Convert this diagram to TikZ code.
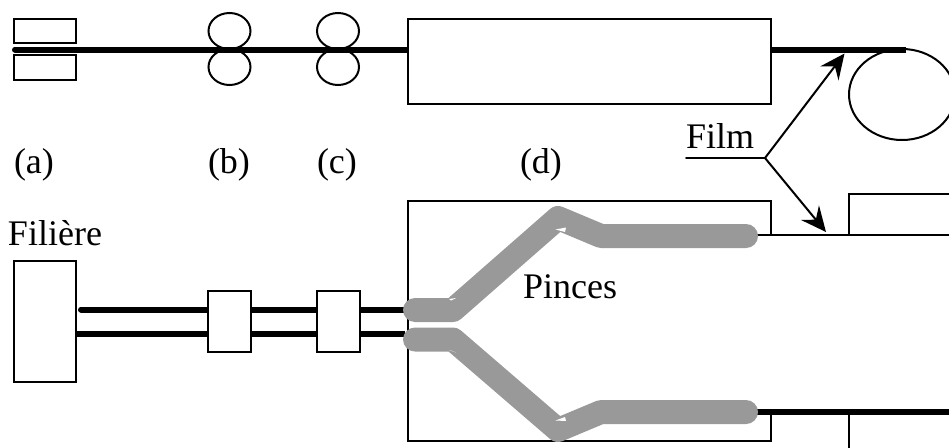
\documentclass[tikz,border=0pt]{standalone}
\usepackage{fontspec}
\setmainfont{Liberation Serif}
\usetikzlibrary{arrows.meta,shapes.geometric}
\definecolor{gray60}{gray}{0.6}
\tikzset{
  thin line/.style={draw=black,line width=2pt},
  thick film/.style={draw=black,line width=6pt},
  unit box/.style={draw=black,line width=2pt,fill=white,rectangle,inner sep=0pt,outer sep=0pt},
  roller/.style={draw=black,line width=2pt,ellipse,inner sep=0pt,outer sep=0pt,minimum width=42pt,minimum height=36pt},
  grip/.style={draw=gray60,line width=24pt,line cap=round,line join=round},
  notch/.style={fill=white,draw=none},
  label/.style={inner sep=0pt,outer sep=0pt,anchor=base west,font=\fontsize{36}{40}\selectfont},
  film arrow/.style={draw=black,line width=2pt,-{Stealth[length=25pt,width=23pt,inset=9pt]}},
}
\begin{document}
\begin{tikzpicture}[x=1pt,y=-1pt]
\useasboundingbox (0,0) rectangle (949,447);
\clip (0,0) rectangle (949,447);
% top line
\node[unit box,minimum width=62pt,minimum height=24pt] (dieA) at (45,31) {};
\node[unit box,minimum width=62pt,minimum height=25pt] (dieB) at (45,67.5) {};
\node[roller] (rb1) at (229.5,31) {};
\node[roller] (rb2) at (229.5,67) {};
\node[roller] (rc1) at (338,31) {};
\node[roller] (rc2) at (338,67) {};
\node[unit box,minimum width=363pt,minimum height=85pt] (oven) at (589.5,61.5) {};
\node[draw=black,line width=2pt,ellipse,inner sep=0pt,outer sep=0pt,minimum width=106pt,minimum height=91pt] (reel) at (902,94.5) {};
\coordinate (filmstart) at (15,49.5);
\coordinate (ovenin) at (408,49.5);
\coordinate (ovenout) at (771,49.5);
\coordinate (reeltop) at (906,49.5);
\draw[thick film,line cap=round] (filmstart) -- (ovenin -| 405,0);
\draw[thick film] (405,49.5) -- (ovenin);
\draw[thick film] (ovenout) -- (reeltop);
% labels
\node[label] (la) at (14,173) {(a)};
\node[label] (lb) at (208,173) {(b)};
\node[label] (lc) at (317,173) {(c)};
\node[label] (ld) at (520,173) {(d)};
\node[label] (film) at (686,148) {Film};
\node[label] (filiere) at (8,245) {Filière};
% Film leader
\coordinate (fl0) at (686,158);
\coordinate (fl1) at (765,158);
\coordinate (ft1) at (844.5,53.5);
\coordinate (ft2) at (826,232);
\draw[thin line,line cap=round] (fl0) -- (fl1);
\draw[film arrow] (fl1) -- (ft1);
\draw[film arrow] (fl1) -- (ft2);
% lower part: enclosure and outgoing box
\coordinate (b1) at (771,235);
\coordinate (b2) at (771,201);
\coordinate (b3) at (408,201);
\coordinate (b4) at (408,441);
\coordinate (b5) at (771,441);
\coordinate (b6) at (771,412);
\draw[thin line] (b1) -- (b2) -- (b3) -- (b4) -- (b5) -- (b6);
\coordinate (r1) at (849,235);
\coordinate (r2) at (849,194);
\coordinate (r3) at (950,194);
\coordinate (r4) at (849,412);
\coordinate (r5) at (849,448);
\draw[thin line] (r1) -- (r2) -- (r3);
\draw[thin line] (r4) -- (r5);
% web edges
\coordinate (e1) at (755,235);
\coordinate (e2) at (950,235);
\coordinate (e3) at (755,412);
\coordinate (e4) at (950,412);
\draw[thin line] (e1) -- (e2);
\draw[thick film] (e3) -- (e4);
% lower left strands
\coordinate (s1) at (81,309.5);
\coordinate (s2) at (76,333.5);
\coordinate (s3) at (405,309.5);
\coordinate (s4) at (405,333.5);
\draw[thick film,line cap=round] (s1) -- (s3);
\draw[thick film] (s2) -- (s4);
\node[unit box,minimum width=62pt,minimum height=121pt] (die) at (45,321.5) {};
\node[unit box,minimum width=43pt,minimum height=61pt] (boxb) at (229.5,321.5) {};
\node[unit box,minimum width=43pt,minimum height=61pt] (boxc) at (338.5,321.5) {};
% grips
\coordinate (g1) at (415,310);
\coordinate (g2) at (453,310);
\coordinate (g3) at (558,218);
\coordinate (g4) at (601,236);
\coordinate (g5) at (746,236);
\coordinate (h1) at (415,339.5);
\coordinate (h2) at (453,339.5);
\coordinate (h3) at (558,430);
\coordinate (h4) at (601,412);
\coordinate (h5) at (746,412);
\draw[grip] (g1) -- (g2) -- (g3) -- (g4) -- (g5);
\draw[grip] (h1) -- (h2) -- (h3) -- (h4) -- (h5);
% small light specks at the inner bends
\fill[notch] (555.5,229.5) -- (566,227.5) -- (565,232) -- cycle;
\fill[notch] (449,299) -- (456,298) -- (451,300.5) -- cycle;
\fill[notch] (449,350) -- (456,352.5) -- (451,350.5) -- cycle;
\fill[notch] (555.5,420.5) -- (566,421) -- (565,417) -- cycle;
\node[label] (pinces) at (523,298) {Pinces};
\end{tikzpicture}
\end{document}
